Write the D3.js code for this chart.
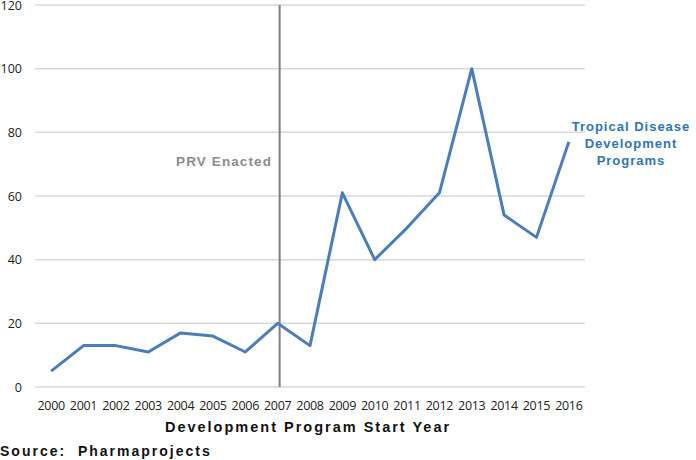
<!DOCTYPE html>
<html><head><meta charset="utf-8">
<script src="https://cdn.jsdelivr.net/npm/d3@7"></script>
<style>body{margin:0;background:#fff}svg{display:block}</style>
</head><body>
<svg id="c" width="696" height="460"></svg>
<script>
const years = ["2000","2001","2002","2003","2004","2005","2006","2007","2008","2009","2010","2011","2012","2013","2014","2015","2016"];
const programs = [5,13,13,11,17,16,11,20,13,61,40,50,61,100,54,47,77];
const yTicks = [0,20,40,60,80,100,120];
const prvYear = "2007";

(function(){
const svg = d3.select("#c");
const pL = 35, pR = 585, pT = 5, pB = 387;
const x = d3.scaleBand().domain(years).range([pL, pR]);
const y = d3.scaleLinear().domain([0,120]).range([pB, pT]);
const font = "'Liberation Sans', Arial, sans-serif";
const tickFont = "'Open Sans', 'Noto Sans', sans-serif";

// grid
svg.append("g").selectAll("line").data(yTicks).join("line")
  .attr("x1", pL).attr("x2", pR)
  .attr("y1", d=>y(d)).attr("y2", d=>y(d))
  .attr("stroke", "#d9d9d9").attr("stroke-width", 1.5);

// y labels
svg.append("g").selectAll("text").data(yTicks).join("text")
  .attr("x", 22).attr("y", d=>y(d)+4.5)
  .attr("text-anchor","end").attr("font-family",tickFont)
  .attr("font-size", 12.5).attr("fill","#222").text(d=>d);

// x labels
svg.append("g").selectAll("text").data(years).join("text")
  .attr("x", d=>x(d)+x.bandwidth()/2).attr("y", 410)
  .attr("text-anchor","middle").attr("font-family",tickFont)
  .attr("font-size", 12.5).attr("letter-spacing","-0.3").attr("fill","#222").text(d=>d);

// PRV vertical line
const px = x(prvYear)+x.bandwidth()/2 + 2;
svg.append("line").attr("x1",px).attr("x2",px).attr("y1",pT).attr("y2",pB)
  .attr("stroke","#7f7f7f").attr("stroke-width",2);
svg.append("text").attr("x", 272).attr("y", 166).attr("text-anchor","end")
  .attr("font-family", font).attr("font-weight","bold").attr("font-size",13.5)
  .attr("letter-spacing","1.1").attr("fill","#8c8c8c").text("PRV Enacted");

// line
const line = d3.line().x((d,i)=>x(years[i])+x.bandwidth()/2).y(d=>y(d));
svg.append("path").datum(programs).attr("d", line)
  .attr("fill","none").attr("stroke","#4a7ebb").attr("stroke-width",3)
  .attr("stroke-linejoin","round");

// series label
const lab = ["Tropical Disease","Development","Programs"];
svg.append("g").selectAll("text").data(lab).join("text")
  .attr("x", 631).attr("y",(d,i)=>131+i*17).attr("text-anchor","middle")
  .attr("font-family", font).attr("font-weight","bold").attr("font-size",13)
  .attr("letter-spacing","1").attr("fill","#2e75b6").text(d=>d);

// axis title
svg.append("text").attr("x", 308).attr("y", 432).attr("text-anchor","middle")
  .attr("font-family", font).attr("font-weight","bold").attr("font-size",14.5)
  .attr("letter-spacing","2").attr("fill","#111").text("Development Program Start Year");

svg.append("text").attr("x", 0).attr("y", 456)
  .attr("font-family", font).attr("font-weight","bold").attr("font-size",14)
  .attr("letter-spacing","2").attr("fill","#111").style("white-space","pre")
  .text("Source:  Pharmaprojects");
})();
</script>
</body></html>
